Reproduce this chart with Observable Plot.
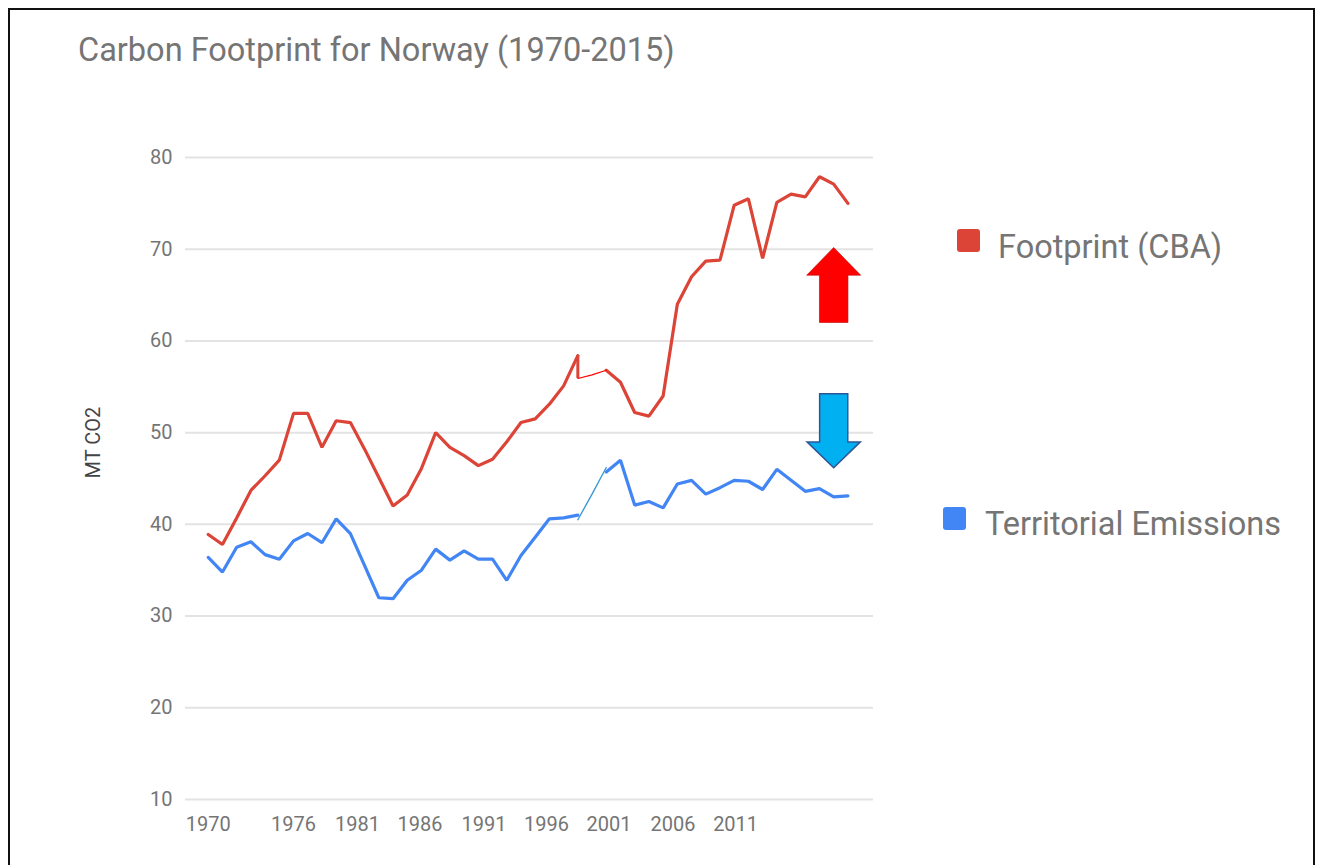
<!DOCTYPE html>
<html>
<head>
<meta charset="utf-8">
<script src="https://cdn.jsdelivr.net/npm/d3@7"></script>
<script src="https://cdn.jsdelivr.net/npm/@observablehq/plot@0.6"></script>
<style>
  html, body { margin: 0; padding: 0; background: #fff; overflow: hidden; }
  #frame { position: absolute; left: 8px; top: 8px; width: 1303px; height: 880px;
           border: 2px solid #111; border-bottom: none; background: #fff; }
  #title { position: absolute; left: 68px; top: 24px; font: 32.5px Roboto, sans-serif;
           line-height: 1; color: #757575; white-space: nowrap; }
  #chart { position: absolute; left: 0; top: 0; }
  .leg { position: absolute; font: 32.5px Roboto, sans-serif; line-height: 1; color: #757575; white-space: nowrap; }
  .sw { position: absolute; width: 23px; height: 23px; border-radius: 3px; }
</style>
</head>
<body>
<div id="frame">
  <div id="chart"></div>
  <div id="title"></div>
  <div class="sw" id="sw0" style="left:947px; top:219px;"></div>
  <div class="leg" id="leg0" style="left:988px; top:221px;"></div>
  <div class="sw" id="sw1" style="left:933px; top:497px;"></div>
  <div class="leg" id="leg1" style="left:975px; top:498px;"></div>
</div>
<script>
// ---------------- data ----------------
const title = "Carbon Footprint for Norway (1970-2015)";
const yLabel = "MT CO2";
const seriesNames = ["Footprint (CBA)", "Territorial Emissions"];

const years = d3.range(1970, 2016);

const footprint = [
  38.9, 37.8, 40.7, 43.7, 45.3, 47.0, 52.1, 52.1, 48.4, 51.3,
  51.1, 48.2, 45.1, 42.0, 43.2, 46.1, 50.0, 48.4, 47.5, 46.4,
  47.1, 49.0, 51.1, 51.5, 53.1, 55.1, 58.4, 56.3, 56.8, 55.5,
  52.2, 51.8, 54.0, 64.0, 67.0, 68.7, 68.8, 74.8, 75.5, 69.0,
  75.1, 76.0, 75.7, 77.9, 77.1, 75.0
];

const territorial = [
  36.4, 34.8, 37.5, 38.1, 36.7, 36.2, 38.2, 39.0, 38.0, 40.6,
  39.0, 35.5, 32.0, 31.9, 33.9, 35.0, 37.3, 36.1, 37.1, 36.2,
  36.2, 33.9, 36.6, 38.6, 40.6, 40.7, 41.0, 43.3, 45.7, 47.0,
  42.1, 42.5, 41.8, 44.4, 44.8, 43.3, 44.0, 44.8, 44.7, 43.8,
  46.0, 44.8, 43.6, 43.9, 43.0, 43.1
];

// hand-spliced (thin) stretch of both lines in the original picture
const spliceYears = [1996, 1997, 1998];
const footprintSplice = [55.9, 56.3, 56.8];
const territorialSplice = [40.5, 43.3, 46.2];

// axis
const yTicks = [10, 20, 30, 40, 50, 60, 70, 80];
const xTickLabels = ["1970", "1976", "1981", "1986", "1991", "1996", "2001", "2006", "2011"];
const xTickAt = [1970, 1976, 1980.5, 1984.9, 1989.4, 1993.8, 1998.2, 2002.7, 2007.1];
const xDomain = [1968.4, 2016.8];

// annotation arrows
const arrowYears = [2014, 2014];
const arrowLevels = [66.1, 50.2];
const arrowDirs = ["up", "down"];

// ---------------- styles ----------------
const RED = "#db4437", BLUE = "#4285f4";

function rows(values) {
  return years.map((year, i) => ({year, value: values[i], seg: year <= 1996 ? "a" : year >= 1998 ? "b" : null}))
              .filter(d => d.seg !== null);
}
const footRows = rows(footprint);
const terrRows = rows(territorial);
const footSplice = spliceYears.map((year, i) => ({year, value: footprintSplice[i]}));
const terrSplice = spliceYears.map((year, i) => ({year, value: territorialSplice[i]}));

// block arrow symbol: tip, head (72% half-width), shaft (38% half-width)
function arrowSymbol(dir, headFrac) {
  const s = dir === "up" ? 1 : -1;
  return {
    draw(ctx, size) {
      const r = Math.sqrt(size / Math.PI);
      const tip = -r * s, base = (-r + 2 * r * headFrac) * s, end = r * s;
      ctx.moveTo(0, tip);
      ctx.lineTo(0.72 * r, base);
      ctx.lineTo(0.38 * r, base);
      ctx.lineTo(0.38 * r, end);
      ctx.lineTo(-0.38 * r, end);
      ctx.lineTo(-0.38 * r, base);
      ctx.lineTo(-0.72 * r, base);
      ctx.closePath();
    }
  };
}
const arrows = arrowYears.map((x, i) => ({x, y: arrowLevels[i], dir: arrowDirs[i]}));

const tickMap = new Map(xTickAt.map((p, i) => [p, xTickLabels[i]]));

const W = 1300, H = 850;
const plot = Plot.plot({
  width: W,
  height: H,
  marginLeft: 175,
  marginRight: 437,
  marginTop: 147,
  marginBottom: 61,
  style: {fontFamily: "Roboto, sans-serif", fontSize: "20px", color: "#757575", background: "transparent"},
  x: {domain: xDomain, ticks: xTickAt, tickFormat: d => tickMap.get(d), tickSize: 0, tickPadding: 17, label: null},
  y: {domain: [10, 80], ticks: yTicks, tickSize: 0, tickPadding: 13, label: null},
  marks: [
    Plot.ruleY(yTicks, {stroke: "#e3e3e3", strokeWidth: 2}),
    Plot.line(footRows, {x: "year", y: "value", z: "seg", stroke: RED, strokeWidth: 3.2, strokeLinejoin: "miter"}),
    Plot.ruleX([1996], {y1: footprint[26], y2: footprintSplice[0], stroke: RED, strokeWidth: 3}),
    Plot.line(footSplice, {x: "year", y: "value", stroke: "#ff0000", strokeWidth: 1.2}),
    Plot.line(terrRows, {x: "year", y: "value", z: "seg", stroke: BLUE, strokeWidth: 3.2, strokeLinejoin: "miter"}),
    Plot.line(terrSplice, {x: "year", y: "value", stroke: "#3d9ad8", strokeWidth: 1.4}),
    Plot.dot(arrows.filter(d => d.dir === "up"), {x: "x", y: "y", r: 37.5, symbol: arrowSymbol("up", 0.37), fill: "#ff0000", stroke: "#c00000", strokeWidth: 0.6}),
    Plot.dot(arrows.filter(d => d.dir === "down"), {x: "x", y: "y", r: 37, symbol: arrowSymbol("down", 0.35), fill: "#00b0f0", stroke: "#2f5597", strokeWidth: 1.5}),
    Plot.text([yLabel], {frameAnchor: "left", dx: -92, rotate: -90, fontSize: 20, fill: "#444", fontFamily: "Roboto, sans-serif"})
  ]
});
document.getElementById("chart").appendChild(plot);
document.getElementById("title").textContent = title;
document.getElementById("leg0").textContent = seriesNames[0];
document.getElementById("leg1").textContent = seriesNames[1];
document.getElementById("sw0").style.background = RED;
document.getElementById("sw1").style.background = BLUE;
</script>
</body>
</html>
